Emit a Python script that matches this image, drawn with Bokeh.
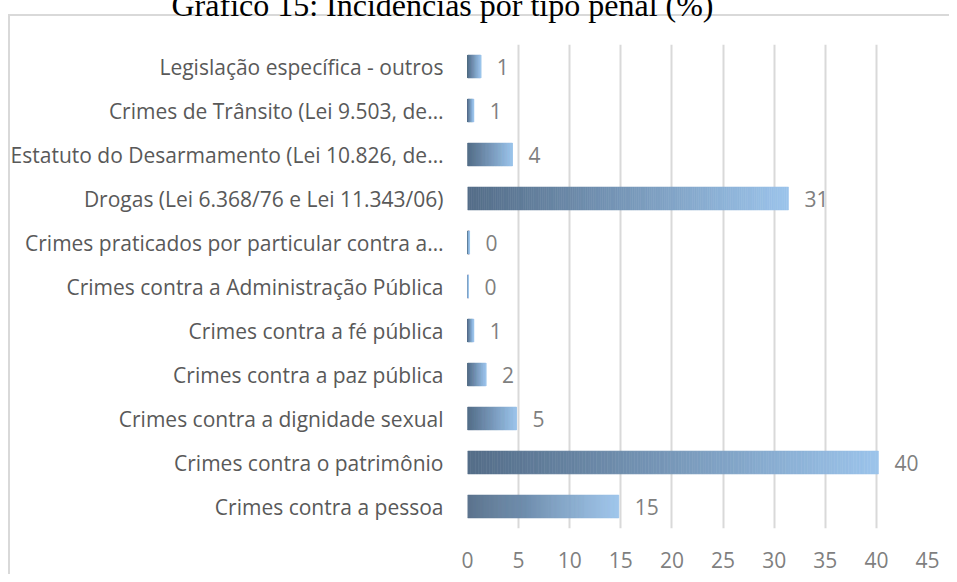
from bokeh.plotting import figure
from bokeh.models import ColumnDataSource, Range1d, FactorRange, FixedTicker, InlineStyleSheet, Title
from bokeh.core.properties import value
from bokeh.embed import file_html
from bokeh.resources import INLINE

# ---- data (bottom to top) ----
categories = [
    "Crimes contra a pessoa",
    "Crimes contra o patrimônio",
    "Crimes contra a dignidade sexual",
    "Crimes contra a paz pública",
    "Crimes contra a fé pública",
    "Crimes contra a Administração Pública",
    "Crimes praticados por particular contra a…",
    "Drogas (Lei 6.368/76 e Lei 11.343/06)",
    "Estatuto do Desarmamento (Lei 10.826, de…",
    "Crimes de Trânsito (Lei 9.503, de…",
    "Legislação específica - outros",
]
values = [14.8, 40.2, 4.8, 1.8, 0.6, 0.1, 0.2, 31.4, 4.4, 0.6, 1.3]
x_ticks = [0, 5, 10, 15, 20, 25, 30, 35, 40, 45]
title_text = "Gráfico 15: Incidências por tipo penal (%)"

# ---- style ----
S = 45                 # canvas is shifted up by S px so the title is cut like the reference
W, H = 949, 574 + S
FONT = "Open Sans"
dark = (0x54, 0x6d, 0x88)
light = (0x9c, 0xc4, 0xeb)
NSEG = 150


def mix(t):
    r = int(round(dark[0] + (light[0] - dark[0]) * t))
    g = int(round(dark[1] + (light[1] - dark[1]) * t))
    b = int(round(dark[2] + (light[2] - dark[2]) * t))
    return "#%02x%02x%02x" % (r, g, b)


seg = dict(y=[], left=[], right=[], color=[])
for c, v in zip(categories, values):
    for i in range(NSEG):
        seg["y"].append(c)
        seg["left"].append(v * i / NSEG)
        seg["right"].append(v * (i + 1) / NSEG)
        seg["color"].append(mix((i + 0.5) / NSEG))

top_line = 14 + S
border_css = InlineStyleSheet(css=f"""
:host {{
  background:
    linear-gradient(#d9d9d9, #d9d9d9) 8px {top_line}px / calc(100% - 8px) 2px no-repeat,
    linear-gradient(#d9d9d9, #d9d9d9) 8px {top_line}px / 2px calc(100% - {top_line}px) no-repeat,
    #ffffff;
}}
""")

p = figure(
    width=W, height=H, output_backend="svg", toolbar_location=None,
    y_range=FactorRange(*categories, range_padding=0),
    x_range=Range1d(0, 45),
    min_border_left=467, min_border_right=22, min_border_top=44 + S, min_border_bottom=46,
)
p.styles = {"margin-top": f"-{S}px"}
p.stylesheets = [border_css]
p.outline_line_color = None
p.background_fill_color = "white"
p.border_fill_color = None

p.title = Title(text=title_text, align="left", offset=-296, standoff=43,
                text_font="Liberation Serif", text_font_size="32px",
                text_font_style="normal", text_color="black")

p.hbar(y="y", left="left", right="right", height=0.52, color="color",
       line_color="color", line_width=0.6, source=ColumnDataSource(seg))

lab = ColumnDataSource(dict(
    y=categories, x=values, t=[str(int(round(v))) for v in values]))
p.text(x="x", y="y", text="t", source=lab, x_offset=16,
       text_baseline="middle", text_align="left",
       text_font=value(FONT), text_font_size="21px", text_color="#7f7f7f")

# grid
p.ygrid.grid_line_color = None
p.xgrid.ticker = FixedTicker(ticks=x_ticks)
p.xgrid.grid_line_color = "#d9d9d9"
p.xgrid.grid_line_width = 2

# x axis
p.xaxis.ticker = FixedTicker(ticks=x_ticks)
p.xaxis.axis_line_color = None
p.xaxis.major_tick_line_color = None
p.xaxis.minor_tick_line_color = None
p.xaxis.major_label_text_font = FONT
p.xaxis.major_label_text_font_size = "21px"
p.xaxis.major_label_text_color = "#7f7f7f"
p.xaxis.major_label_standoff = 17

# y axis
p.yaxis.axis_line_color = None
p.yaxis.major_tick_line_color = None
p.yaxis.minor_tick_line_color = None
p.yaxis.major_tick_out = 0
p.yaxis.major_label_text_font = FONT
p.yaxis.major_label_text_font_size = "21px"
p.yaxis.major_label_text_color = "#595959"
p.yaxis.major_label_standoff = 24

open("out.html", "w").write(file_html(p, INLINE))
